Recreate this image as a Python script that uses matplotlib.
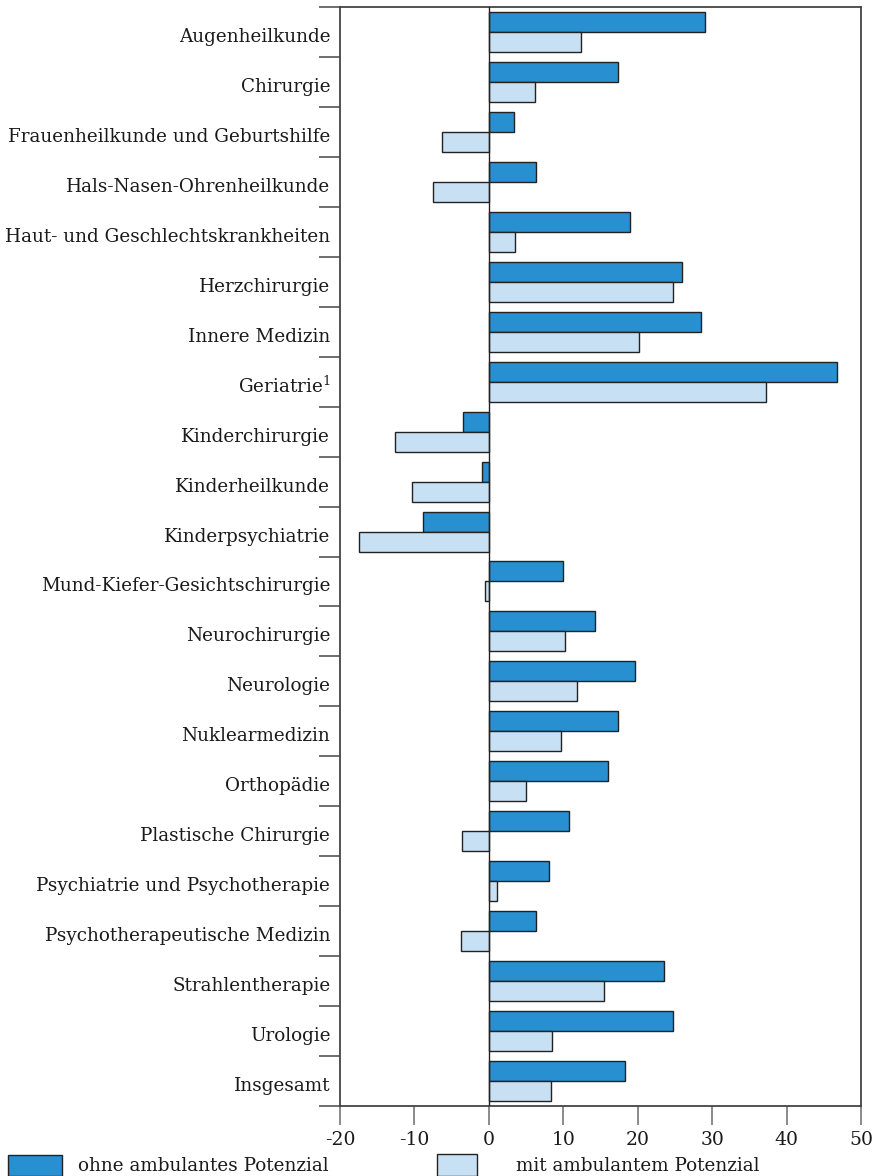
import matplotlib
matplotlib.use("Agg")
import matplotlib.pyplot as plt
from matplotlib.patches import Rectangle
import numpy as np

categories = [
    "Augenheilkunde", "Chirurgie", "Frauenheilkunde und Geburtshilfe",
    "Hals-Nasen-Ohrenheilkunde", "Haut- und Geschlechtskrankheiten",
    "Herzchirurgie", "Innere Medizin", "Geriatrie$^{1}$", "Kinderchirurgie",
    "Kinderheilkunde", "Kinderpsychiatrie", "Mund-Kiefer-Gesichtschirurgie",
    "Neurochirurgie", "Neurologie", "Nuklearmedizin", "Orthopädie",
    "Plastische Chirurgie", "Psychiatrie und Psychotherapie",
    "Psychotherapeutische Medizin", "Strahlentherapie", "Urologie", "Insgesamt",
]
ohne = [29.1, 17.4, 3.4, 6.35, 19.0, 26.0, 28.5, 46.8, -3.45, -0.9, -8.9,
        10.0, 14.3, 19.7, 17.4, 16.0, 10.8, 8.1, 6.4, 23.5, 24.7, 18.3]
mit = [12.35, 6.25, -6.35, -7.45, 3.5, 24.7, 20.2, 37.2, -12.6, -10.3, -17.5,
       -0.5, 10.25, 11.9, 9.7, 5.0, -3.6, 1.1, -3.7, 15.5, 8.5, 8.3]
xticks = [-20, -10, 0, 10, 20, 30, 40, 50]
legend_labels = ["ohne ambulantes Potenzial", "mit ambulantem Potenzial"]

plt.rcParams["font.family"] = ["DejaVu Serif"]
plt.rcParams["mathtext.fontset"] = "dejavuserif"

dark = "#288FD0"
light = "#C8E0F3"
edge = "#222222"
txt = "#1a1a1a"

fig = plt.figure(figsize=(8.74, 11.76), dpi=100)
W, H = 874, 1176
left, right, top, bottom = 340, 861, 7, 1106
ax = fig.add_axes([left / W, 1 - bottom / H, (right - left) / W, (bottom - top) / H])

y = np.arange(len(categories))
h = 0.4
ax.barh(y - h / 2, ohne, height=h, color=dark, edgecolor=edge, linewidth=1.0, zorder=2)
ax.barh(y + h / 2, mit, height=h, color=light, edgecolor=edge, linewidth=1.0, zorder=2)
ax.axvline(0, color="#222222", linewidth=1.0, zorder=3)

ax.set_xlim(-20, 50)
ax.set_ylim(len(categories) - 0.5, -0.5)
ax.set_xticks(xticks)
ax.set_xticklabels([str(t) for t in xticks], fontsize=13.5)
ax.set_yticks(y + 0.06)
ax.set_yticklabels(categories, fontsize=13.2)
ax.set_yticks(np.arange(-0.5, len(categories), 1.0), minor=True)
ax.tick_params(axis="y", which="major", length=0, pad=7, labelcolor=txt)
ax.tick_params(axis="y", which="minor", length=15, width=1.2, color="#555555")
ax.tick_params(axis="x", which="major", length=14, width=1.2, color="#777777",
               pad=4, labelcolor=txt)
for s in ax.spines.values():
    s.set_color("#444444")
    s.set_linewidth(1.3)

# legend
fig.patches.append(Rectangle((8 / W, 0), 54 / W, 21 / H, transform=fig.transFigure,
                             facecolor=dark, edgecolor=edge, linewidth=1.0))
fig.text(78 / W, 1 - 1166 / H, legend_labels[0], fontsize=13.2, va="center", ha="left",
         color=txt)
fig.patches.append(Rectangle((437 / W, 0), 40 / W, 22 / H, transform=fig.transFigure,
                             facecolor=light, edgecolor=edge, linewidth=1.0))
fig.text(516 / W, 1 - 1166 / H, legend_labels[1], fontsize=13.2, va="center", ha="left",
         color=txt)

fig.savefig("out.png", dpi=100)
